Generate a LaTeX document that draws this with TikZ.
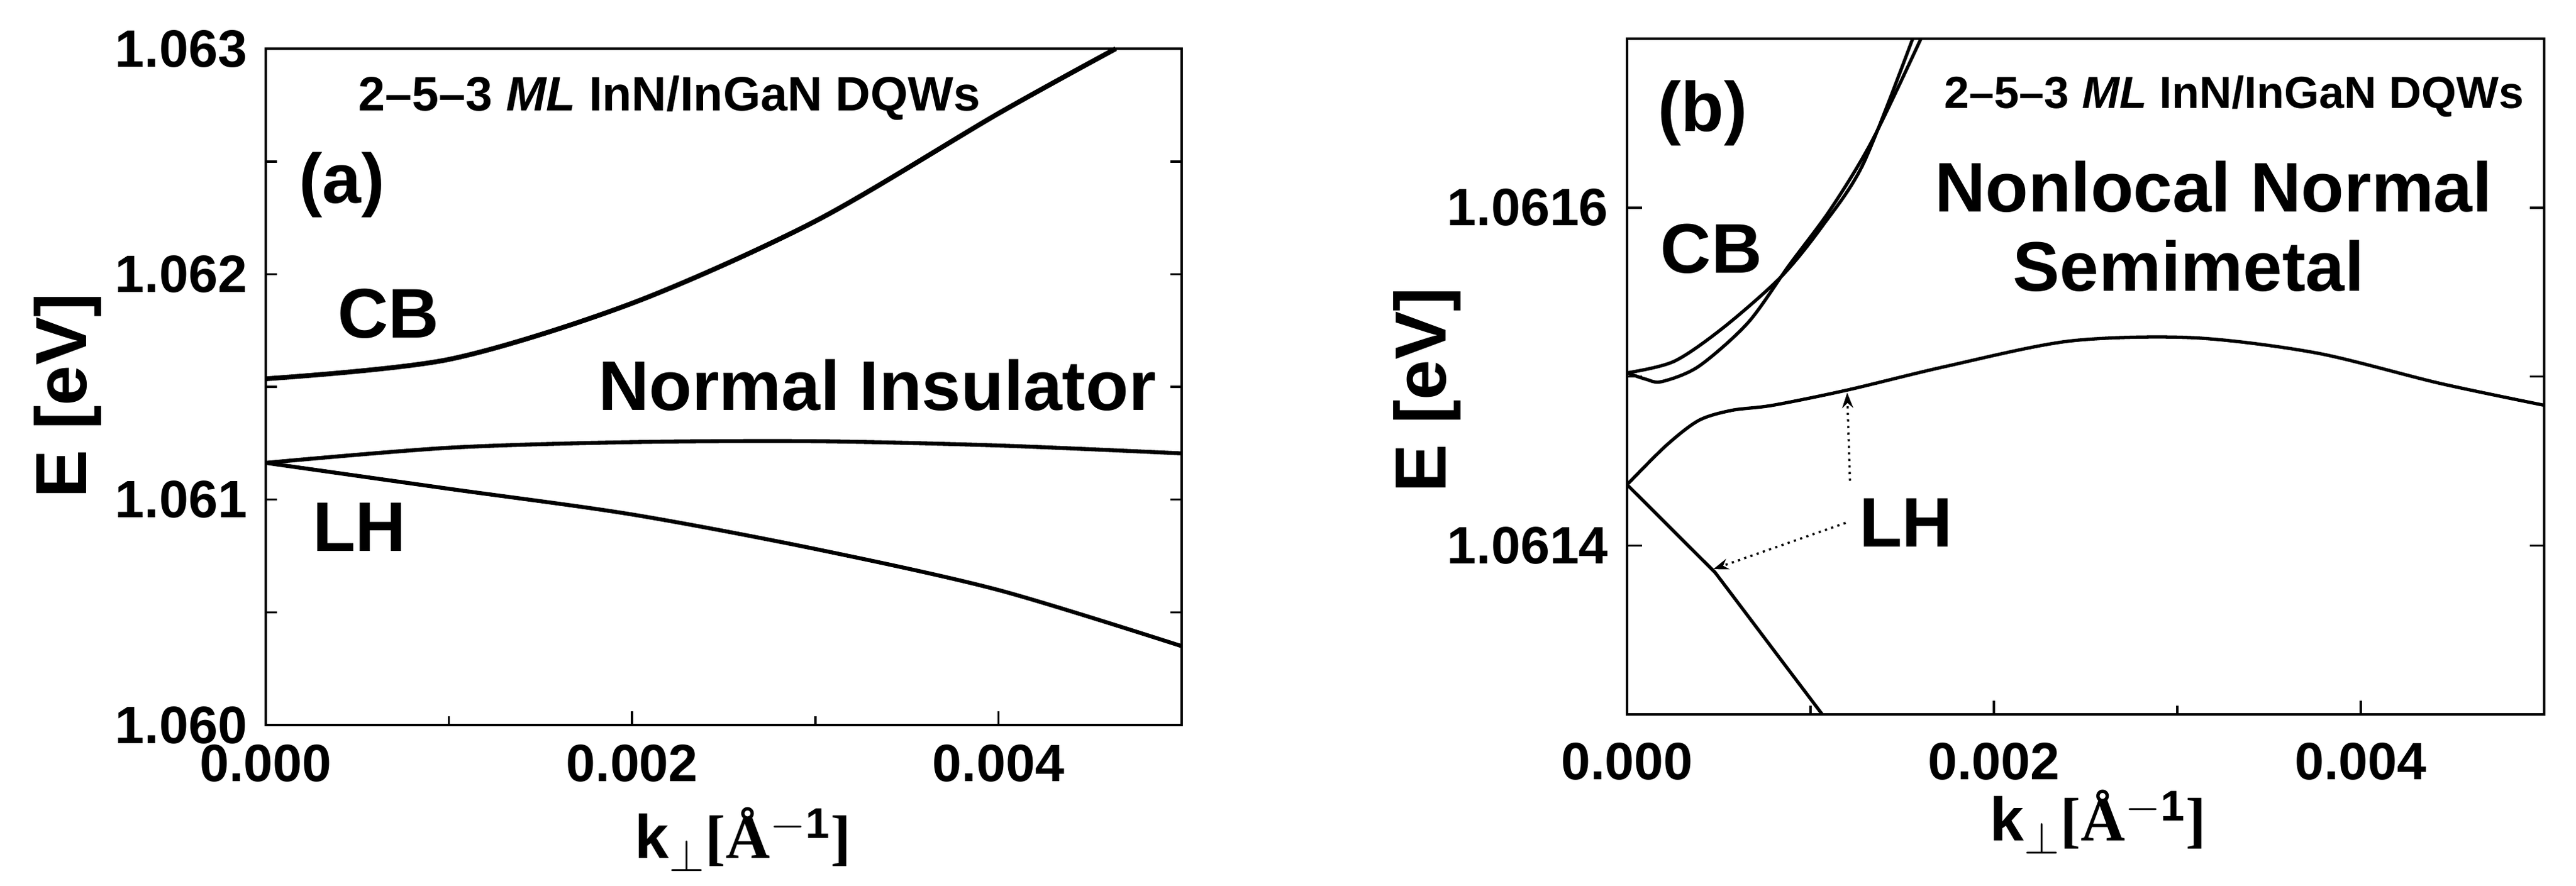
\documentclass[tikz,border=0pt]{standalone}
\usepackage{fontspec}
\setmainfont{Liberation Sans}
\newfontfamily\serfont{Liberation Serif}
\usetikzlibrary{arrows.meta}
\tikzset{
  frame/.style={line width=1pt},
  curveA/.style={line width=2.2pt,smooth},
  curveB/.style={line width=1.5pt,smooth},
  lbl/.style={font=\fontsize{32}{36}\selectfont\bfseries,inner sep=0pt},
  tlbl/.style={font=\fontsize{24}{28}\selectfont\bfseries,inner sep=0pt},
  dqw/.style={font=\fontsize{22}{26}\selectfont\bfseries,inner sep=0pt},
  axl/.style={font=\fontsize{33}{38}\selectfont\bfseries,inner sep=0pt},
  ptr/.style={line width=1pt,dotted,-{Stealth[length=7pt,width=5pt]}}
}
\begin{document}
\begin{tikzpicture}
\useasboundingbox (0,0) rectangle (41.29,-14.19);
% ---------- panel (a) ----------
\begin{scope}[shift={(4.26,-11.62)},x=2.936cm,y=3.613cm]
  \draw[frame] (0,0) rectangle (5,3);
  \foreach \k in {1,2,3,4}{\draw[frame] (\k,0) -- ++(0,{(\k==2||\k==4)?0.06:0.04});}
  \foreach \e in {0.5,1,1.5,2,2.5}{
    \draw[frame] (0,\e) -- ++(0.06,0);
    \draw[frame] (5,\e) -- ++(-0.06,0);}
  \node[tlbl,anchor=east] (ya0) at (-0.1,0) {1.060};
  \node[tlbl,anchor=east] (ya1) at (-0.1,1) {1.061};
  \node[tlbl,anchor=east] (ya2) at (-0.1,2) {1.062};
  \node[tlbl,anchor=east] (ya3) at (-0.1,3) {1.063};
  \node[tlbl] (xa0) at (0,-0.17) {0.000};
  \node[tlbl] (xa2) at (2,-0.17) {0.002};
  \node[tlbl] (xa4) at (4,-0.17) {0.004};
  % CB
  \draw[curveA] plot coordinates {(0,1.536) (1,1.622) (2,1.871) (3,2.235) (4,2.713) (4.64,3)};
  % LH upper
  \draw[curveA,line width=1.8pt] plot coordinates {(0,1.163) (1,1.230) (2,1.255) (3,1.259) (4,1.240) (5,1.205)};
  % LH lower
  \draw[curveA,line width=1.8pt] plot coordinates {(0,1.163) (1,1.048) (2,0.934) (3,0.781) (4,0.599) (5,0.350)};
\end{scope}
\node[dqw] (ta) at (10.73,-1.57) {2--5--3 \textit{ML} InN/InGaN DQWs};
\node[lbl] (pa) at (5.48,-2.96) {(a)};
\node[lbl] (cba) at (6.23,-5.03) {CB};
\node[lbl] (nia) at (14.06,-6.17) {Normal Insulator};
\node[lbl] (lha) at (5.76,-8.45) {LH};
\node[axl,rotate=90] (eya) at (1.09,-6.34) {E [eV]};
\node[inner sep=0pt] (xla) at (11.91,-13.45) {\fontsize{28}{32}\selectfont\bfseries k$_\perp$\serfont[Å$^{\mathbf{-1}}$]};
% ---------- panel (b) ----------
\begin{scope}[shift={(26.08,-11.45)},x=2.94cm,y=2.7075cm]
  \draw[frame] (0,0) rectangle (5,4);
  \foreach \k in {1,2,3,4}{\draw[frame] (\k,0) -- ++(0,{(\k==2||\k==4)?0.08:0.05});}
  \foreach \e in {1,2,3}{
    \draw[frame] (0,\e) -- ++(0.08,0);
    \draw[frame] (5,\e) -- ++(-0.08,0);}
  \node[tlbl,anchor=east] (yb1) at (-0.1,1) {1.0614};
  \node[tlbl,anchor=east] (yb3) at (-0.1,3) {1.0616};
  \node[tlbl] (xb0) at (0,-0.28) {0.000};
  \node[tlbl] (xb2) at (2,-0.28) {0.002};
  \node[tlbl] (xb4) at (4,-0.28) {0.004};
  % CB two branches
  \draw[curveB] plot coordinates {(0,2.022) (0.256,2.09) (0.525,2.29) (0.839,2.59) (1.064,2.89) (1.288,3.26) (1.557,4)};
  \draw[curveB] plot coordinates {(0,2.022) (0.1,1.985) (0.189,1.97) (0.39,2.06) (0.66,2.32) (0.884,2.66) (1.109,2.99) (1.333,3.39) (1.602,4)};
  % LH upper
  \draw[curveB] plot coordinates {(0,1.36) (0.211,1.59) (0.39,1.74) (0.57,1.8) (0.794,1.83) (1.2,1.92) (1.737,2.06) (2.41,2.21) (3.084,2.23) (3.757,2.14) (4.43,1.96) (5,1.83)};
  % LH lower
  \draw[curveB] (0,1.36) -- (0.48,0.84) -- (1.064,0);
  \coordinate (lhu) at (1.2,1.905);
  \coordinate (lhl) at (0.47,0.86);
\end{scope}
\node[dqw,font=\fontsize{20.5}{24}\selectfont\bfseries] (tb) at (35.81,-1.54) {2--5--3 \textit{ML} InN/InGaN DQWs};
\node[lbl] (pb) at (27.29,-1.81) {(b)};
\node[lbl] (cbb) at (27.43,-3.99) {CB};
\node[lbl] (nnb) at (35.48,-2.99) {Nonlocal Normal};
\node[lbl] (smb) at (35.08,-4.26) {Semimetal};
\node[lbl] (lhb) at (30.55,-8.38) {LH};
\node[axl,rotate=90] (eyb) at (22.87,-6.25) {E [eV]};
\node[inner sep=0pt] (xlb) at (33.63,-13.17) {\fontsize{28}{32}\selectfont\bfseries k$_\perp$\serfont[Å$^{\mathbf{-1}}$]};
\draw[ptr] ([xshift=-4pt,yshift=8pt]lhb.north west) -- (lhu);
\draw[ptr] ([yshift=0pt]lhb.west) ++(-6pt,0) -- (lhl);
\end{tikzpicture}
\end{document}
